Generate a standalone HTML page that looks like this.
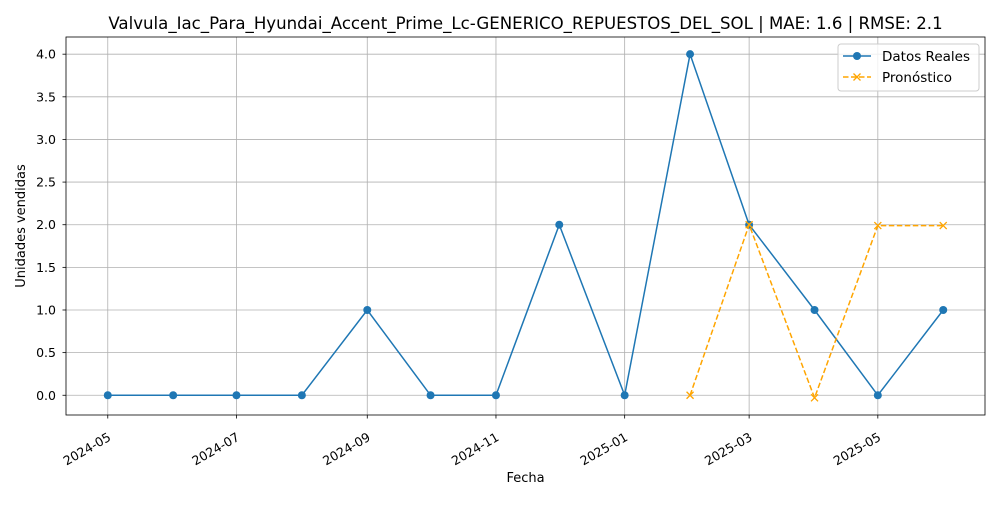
<!DOCTYPE html>
<html><head><meta charset="utf-8"><style>
body{margin:0;background:#fff;font-family:"Liberation Sans","DejaVu Sans",sans-serif}
svg text{font-family:"DejaVu Sans","Liberation Sans",sans-serif}
</style></head><body>
<svg id="c" width="1000" height="500" xmlns="http://www.w3.org/2000/svg"></svg>
<script>
const dates = ["2024-05-01","2024-06-01","2024-07-01","2024-08-01","2024-09-01","2024-10-01","2024-11-01","2024-12-01","2025-01-01","2025-02-01","2025-03-01","2025-04-01","2025-05-01","2025-06-01"];
const actual = [0,0,0,0,1,0,0,2,0,4,2,1,0,1];
const fcDates = ["2025-02-01","2025-03-01","2025-04-01","2025-05-01","2025-06-01"];
const forecast = [0,2,-0.03,1.99,1.99];
const xTicks = ["2024-05","2024-07","2024-09","2024-11","2025-01","2025-03","2025-05"];
const yTicks = [0,0.5,1,1.5,2,2.5,3,3.5,4];

const L=66,R=985,T=37,B=415;
const svg=document.getElementById('c');
const NS='http://www.w3.org/2000/svg';
function el(t,a,p){const e=document.createElementNS(NS,t);for(const k in a)e.setAttribute(k,a[k]);(p||svg).appendChild(e);return e;}
const d0=Date.parse("2024-05-01"),d1=Date.parse("2025-06-01");
const span=d1-d0, pad=span*0.05;
const x=d=>L+(Date.parse(d)-(d0-pad))/(span+2*pad)*(R-L);
const ymin=-0.03,ymax=4, yp=(ymax-ymin)*0.05;
const y=v=>B-(v-(ymin-yp))/((ymax-ymin)+2*yp)*(B-T);

xTicks.forEach(t=>{
  const xx=x(t+"-01");
  let g=el('line',{x1:xx,x2:xx,y1:T,y2:B,stroke:'#b0b0b0','stroke-width':0.8});
  
  
  el('line',{x1:xx,x2:xx,y1:B,y2:B+3.5,stroke:'#000','stroke-width':0.8});
  const px=xx-1, py=B+16;
  let tx=el('text',{x:px,y:py+10,'font-size':12.5,'text-anchor':'end',transform:`rotate(-30 ${px} ${py})`});
  tx.textContent=t;
  
  
});
yTicks.forEach(v=>{
  const yy=y(v);
  let g=el('line',{x1:L,x2:R,y1:yy,y2:yy,stroke:'#b0b0b0','stroke-width':0.8});
  
  
  el('line',{x1:L-3.5,x2:L,y1:yy,y2:yy,stroke:'#000','stroke-width':0.8});
  let tx=el('text',{x:L-10,y:yy+4.5,'font-size':12.5,'text-anchor':'end'});
  tx.textContent=v.toFixed(1);
  
  
});

let p=el('polyline',{points:dates.map((d,i)=>x(d)+','+y(actual[i])).join(' '),fill:'none',stroke:'#1f77b4','stroke-width':1.5});


dates.forEach((d,i)=>{
  let c=el('circle',{cx:x(d),cy:y(actual[i]),r:4,fill:'#1f77b4'});
  
  
});
let f=el('polyline',{points:fcDates.map((d,i)=>x(d)+','+y(forecast[i])).join(' '),fill:'none',stroke:'#ffa500','stroke-width':1.5,'stroke-dasharray':'5.5,2.5'});


fcDates.forEach((d,i)=>{
  const cx=x(d),cy=y(forecast[i]);
  let g=el('path',{d:`M${cx-3.5},${cy-3.5}L${cx+3.5},${cy+3.5}M${cx-3.5},${cy+3.5}L${cx+3.5},${cy-3.5}`,stroke:'#ffa500','stroke-width':1.3});
  
  
});

el('rect',{x:L,y:T,width:R-L,height:B-T,fill:'none',stroke:'#000','stroke-width':0.8});

let t=el('text',{x:(L+R)/2,y:29,'font-size':16.6,'text-anchor':'middle'});
t.textContent="Valvula_Iac_Para_Hyundai_Accent_Prime_Lc-GENERICO_REPUESTOS_DEL_SOL | MAE: 1.6 | RMSE: 2.1";

let xl=el('text',{x:(L+R)/2,y:482,'font-size':13,'text-anchor':'middle'});
xl.textContent="Fecha";

let yl=el('text',{x:25,y:(T+B)/2,'font-size':13,'text-anchor':'middle',transform:`rotate(-90 25 ${(T+B)/2})`});
yl.textContent="Unidades vendidas";


const lg=el('g',{});

el('rect',{x:838,y:44,width:141,height:47,rx:3,fill:'#fff','fill-opacity':0.8,stroke:'#ccc'},lg);
el('line',{x1:843,x2:871,y1:56,y2:56,stroke:'#1f77b4','stroke-width':1.5},lg);
el('circle',{cx:857,cy:56,r:4,fill:'#1f77b4'},lg);
let l1=el('text',{x:882,y:61,'font-size':13.5},lg);l1.textContent="Datos Reales";

el('line',{x1:843,x2:871,y1:77,y2:77,stroke:'#ffa500','stroke-width':1.5,'stroke-dasharray':'5.5,2.5'},lg);
el('path',{d:'M853.5,73.5L860.5,80.5M853.5,80.5L860.5,73.5',stroke:'#ffa500','stroke-width':1.3},lg);
let l2=el('text',{x:882,y:82,'font-size':13.5},lg);l2.textContent="Pronóstico";

</script>
</body></html>
